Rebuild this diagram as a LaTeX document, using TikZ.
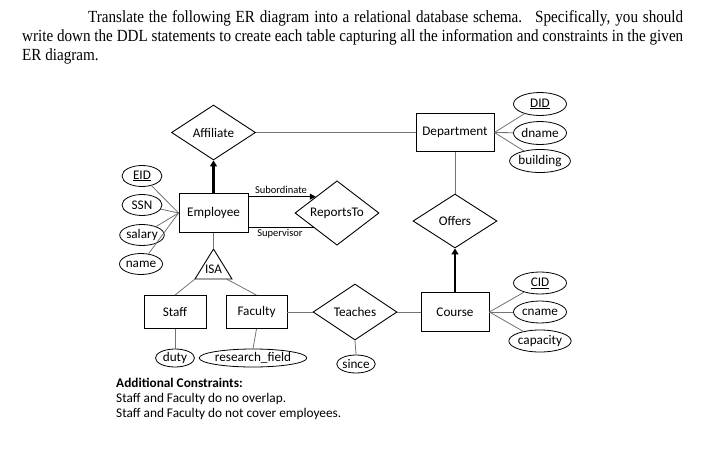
\documentclass[tikz,border=0pt]{standalone}
\usepackage{fontspec}
\setmainfont{Liberation Serif}
\newfontfamily\carl{Carlito}
\usetikzlibrary{shapes.geometric,arrows.meta,calc}
\definecolor{edgegray}{rgb}{0.45,0.45,0.45}
\tikzset{
  ent/.style={draw=black, line width=0.9pt, rectangle, inner sep=0pt, font=\carl\fontsize{13.2}{15}\selectfont},
  rel/.style={draw=black, line width=0.9pt, diamond, inner sep=0pt, minimum width=84pt, minimum height=55pt, font=\carl\fontsize{13.2}{15}\selectfont},
  attr/.style={draw=black, line width=0.8pt, ellipse, inner sep=0pt, font=\carl\fontsize{13.2}{15}\selectfont},
  ln/.style={draw=edgegray, line width=0.8pt},
  bk/.style={draw=black, line width=0.9pt},
  thick arr/.style={draw=black, line width=2.2pt, -{Triangle[length=6pt,width=7pt]}},
  thin arr/.style={draw=black, line width=0.9pt, -{Triangle[length=6pt,width=6pt]}},
  small/.style={font=\carl\fontsize{10.5}{12}\selectfont, inner sep=0pt},
  title/.style={anchor=base west, inner sep=0pt, font=\fontsize{17}{19}\selectfont},
  note/.style={anchor=base west, inner sep=0pt, font=\carl\fontsize{13.3}{15}\selectfont},
}
\begin{document}
\begin{tikzpicture}[x=1pt,y=-1pt]
\useasboundingbox (0,0) rectangle (705,469);
% title
\node[title] (t1) at (88,22) {\scalebox{0.89}[1]{\makebox[668.5pt][s]{Translate the following ER diagram into a relational database schema. \ Specifically, you should}}};
\node[title] (t2) at (22,41) {\scalebox{0.89}[1]{\makebox[742.7pt][s]{write down the DDL statements to create each table capturing all the information and constraints in the given}}};
\node[title] (t3) at (22,60) {\scalebox{0.89}[1]{ER diagram.}};

% entities
\node[ent, minimum width=69pt, minimum height=39pt] (emp) at (213.5,213) {Employee};
\node[ent, minimum width=78pt, minimum height=38pt] (dept) at (455,132.5) {Department};
\node[ent, minimum width=68pt, minimum height=39pt] (course) at (455,312) {Course};
\node[ent, minimum width=62pt, minimum height=33pt] (staff) at (175,312) {Staff};
\node[ent, minimum width=61pt, minimum height=33pt] (fac) at (256.5,312) {Faculty};

% relationships
\node[rel] (aff) at (213.5,132.5) {Affiliate};
\node[rel, minimum height=54pt] (offers) at (455,221) {Offers};
\node[rel] (rep) at (337,213) {ReportsTo};
\node[rel, minimum height=56pt] (teach) at (355,312) {Teaches};

% ISA triangle
\coordinate (isaA) at (213.5,249);
\coordinate (isaL) at (195,279);
\coordinate (isaR) at (232,279);
\draw[bk] (isaA) -- (isaL) -- (isaR) -- cycle;
\node[font=\carl\fontsize{13.2}{15}\selectfont, inner sep=0pt] (isa) at (213.5,269) {ISA};

% attributes
\node[attr, minimum width=40pt, minimum height=21pt] (eid) at (142,176) {\underline{EID}};
\node[attr, minimum width=40pt, minimum height=21pt] (ssn) at (142,205) {SSN};
\node[attr, minimum width=41pt, minimum height=21pt] (sal) at (142,235) {salary};
\node[attr, minimum width=40pt, minimum height=21pt] (name) at (141,264) {name};

\node[attr, minimum width=53pt, minimum height=23pt] (did) at (540,104) {\underline{DID}};
\node[attr, minimum width=53pt, minimum height=23pt] (dname) at (540,133) {dname};
\node[attr, minimum width=53pt, minimum height=23pt] (bld) at (540,161) {building};

\node[attr, minimum width=53pt, minimum height=22pt] (cid) at (540,283) {\underline{CID}};
\node[attr, minimum width=53pt, minimum height=22pt] (cname) at (540,312) {cname};
\node[attr, minimum width=53pt, minimum height=22pt] (cap) at (540,341) {capacity};

\node[attr, minimum width=39pt, minimum height=18pt] (duty) at (175,358) {duty};
\node[attr, minimum width=82pt, minimum height=18pt] (rf) at (253,358) {research\_field};
\node[attr, minimum width=38pt, minimum height=18pt] (since) at (356,364) {since};

% attribute lines
\foreach \a in {eid,ssn,sal,name} \draw[ln] (emp.west) -- (\a);
\foreach \a in {did,dname,bld} \draw[ln] (dept.east) -- (\a);
\foreach \a in {cid,cname,cap} \draw[ln] (course.east) -- (\a);
\draw[ln] (staff.south) -- (duty.north);
\draw[ln] (fac.south) -- (rf.north);
\draw[ln] (teach.south) -- (since.north);

% relationship lines
\draw[thick arr] (emp.north) -- (aff.south);
\draw[ln] (aff.east) -- (dept.west);
\draw[ln] (dept.south) -- (offers.north);
\draw[thick arr] (course.north) -- (offers.south);
\draw[ln] (fac.east) -- (teach.west);
\draw[ln] (teach.east) -- (course.west);
\draw[ln] (emp.south) -- (isaA);
\draw[ln] (isaL) -- (staff.north);
\draw[ln] ($(isaL)!0.85!(isaR)$) -- (fac.north);

% ReportsTo roles
\coordinate (subEnd) at ($(rep.west)!0.5!(rep.north)$);
\coordinate (supEnd) at ($(rep.west)!0.45!(rep.south)$);
\draw[thin arr] (emp.east |- subEnd) -- (subEnd);
\draw[bk] (emp.east |- supEnd) -- (supEnd);
\node[small, anchor=base] (sublbl) at (281,193) {Subordinate};
\node[small, anchor=base] (suplbl) at (280,236) {Supervisor};

% constraints
\node[note, font=\carl\bfseries\fontsize{13.3}{15}\selectfont] (c0) at (116,387) {Additional Constraints:};
\node[note] (c1) at (116,402) {Staff and Faculty do no overlap.};
\node[note] (c2) at (116,417) {Staff and Faculty do not cover employees.};
\end{tikzpicture}
\end{document}
